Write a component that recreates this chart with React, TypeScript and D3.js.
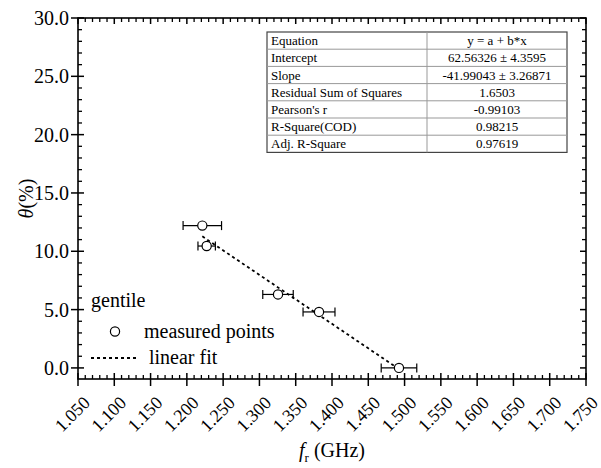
import React from "react";
import * as d3 from "d3";

const xTickLabels = ["1.050","1.100","1.150","1.200","1.250","1.300","1.350","1.400","1.450","1.500","1.550","1.600","1.650","1.700","1.750"];
const yTickLabels = ["0.0","5.0","10.0","15.0","20.0","25.0","30.0"];
const frValues = [1.2213, 1.2273, 1.3256, 1.3821, 1.4923];
const thetaValues = [12.2, 10.45, 6.3, 4.8, 0.0];
const frErrors = [0.0265, 0.012, 0.021, 0.022, 0.0245];
const fitIntercept = 62.56326;
const fitSlope = -41.99043;
const tableRows = [
  ["Equation", "y = a + b*x"],
  ["Intercept", "62.56326 \u00b1 4.3595"],
  ["Slope", "-41.99043 \u00b1 3.26871"],
  ["Residual Sum of Squares", "1.6503"],
  ["Pearson's r", "-0.99103"],
  ["R-Square(COD)", "0.98215"],
  ["Adj. R-Square", "0.97619"],
];

const W = 601, H = 468;
const L = 78, R = 586, T = 18, B = 379;
const FONT = "Liberation Serif, DejaVu Serif, serif";

export default function App() {
  const x = d3.scaleLinear().domain([1.05, 1.75]).range([L, R]);
  const y = d3.scaleLinear().domain([-0.95, 30]).range([B, T]);
  const xMajor = xTickLabels.map(Number);
  const yMajor = yTickLabels.map(Number);
  const xMinor = d3.range(105, 176, 1).map((v) => v / 100).filter((v) => !xMajor.some((m) => Math.abs(m - v) < 1e-6));
  const yMinor = d3.range(0, 31, 1).filter((v) => v % 5 !== 0);
  const xFit = d3.extent(frValues) as [number, number];
  const fitLine = d3.line<number>().x((v) => x(v)).y((v) => y(fitIntercept + fitSlope * v));

  const tL = 267, tR = 567, tT = 32, rowH = 17.2, tDiv = 427;
  const tB = tT + rowH * tableRows.length;
  const ts = { fontFamily: FONT };

  return (
    <svg width={W} height={H} style={{ position: "absolute", left: 0, top: 0, background: "#fff", fontFamily: FONT }}>
      <rect x={0} y={0} width={W} height={H} fill="#fff" />
      {xMinor.map((v, i) => (
        <g key={"xm" + i} stroke="#000" strokeWidth={1.3}>
          <line x1={x(v)} x2={x(v)} y1={B} y2={B - 4} />
          <line x1={x(v)} x2={x(v)} y1={T} y2={T + 4} />
        </g>
      ))}
      {yMinor.map((v, i) => (
        <g key={"ym" + i} stroke="#000" strokeWidth={1.3}>
          <line x1={L} x2={L + 4} y1={y(v)} y2={y(v)} />
          <line x1={R} x2={R - 4} y1={y(v)} y2={y(v)} />
        </g>
      ))}
      {xMajor.map((v, i) => (
        <g key={"xM" + i} stroke="#000" strokeWidth={1.5}>
          <line x1={x(v)} x2={x(v)} y1={B + 7} y2={B - 6} />
          <line x1={x(v)} x2={x(v)} y1={T} y2={T + 6} />
        </g>
      ))}
      {yMajor.map((v, i) => (
        <g key={"yM" + i} stroke="#000" strokeWidth={1.5}>
          <line x1={L - 7} x2={L + 6} y1={y(v)} y2={y(v)} />
          <line x1={R} x2={R - 6} y1={y(v)} y2={y(v)} />
        </g>
      ))}
      <rect x={L} y={T} width={R - L} height={B - T} fill="none" stroke="#000" strokeWidth={1.6} />
      {yTickLabels.map((t, i) => (
        <text key={"yl" + i} style={ts} x={L - 9} y={y(yMajor[i])} dy="0.35em" textAnchor="end" fontSize={20}>{t}</text>
      ))}
      {xTickLabels.map((t, i) => (
        <text key={"xl" + i} style={ts} transform={`translate(${x(xMajor[i]) + 13},${B + 25}) rotate(-45)`} textAnchor="end" fontSize={18}>{t}</text>
      ))}
      <text style={ts} x={332} y={457} textAnchor="middle" fontSize={20}>
        <tspan fontStyle="italic">f</tspan>
        <tspan fontSize={13} dy={5}>r</tspan>
        <tspan dy={-5}> (GHz)</tspan>
      </text>
      <text style={ts} transform={`translate(33,${(T + B) / 2}) rotate(-90)`} textAnchor="middle" fontSize={20}>
        <tspan fontStyle="italic">θ</tspan>(%)
      </text>
      <path d={fitLine(xFit) || ""} fill="none" stroke="#000" strokeWidth={1.8} strokeDasharray="3,3" />
      {frValues.map((v, i) => {
        const cy = y(thetaValues[i]);
        const x0 = x(v - frErrors[i]);
        const x1 = x(v + frErrors[i]);
        return (
          <g key={"p" + i} stroke="#000" strokeWidth={1.2}>
            <line x1={x0} x2={x1} y1={cy} y2={cy} />
            <line x1={x0} x2={x0} y1={cy - 4.5} y2={cy + 4.5} />
            <line x1={x1} x2={x1} y1={cy - 4.5} y2={cy + 4.5} />
            <circle cx={x(v)} cy={cy} r={4.6} fill="#fff" strokeWidth={1.2} />
          </g>
        );
      })}
      <text style={ts} x={91} y={307} fontSize={20}>gentile</text>
      <circle cx={115} cy={331.5} r={4.6} fill="#fff" stroke="#000" strokeWidth={1.2} />
      <text style={ts} x={144} y={338} fontSize={20}>measured points</text>
      <line x1={91} x2={137} y1={358} y2={358} stroke="#000" strokeWidth={1.8} strokeDasharray="3,3" />
      <text style={ts} x={149} y={364} fontSize={20}>linear fit</text>
      <rect x={tL} y={tT} width={tR - tL} height={tB - tT} fill="#fff" stroke="#444" strokeWidth={1.2} />
      {tableRows.slice(1).map((_, i) => (
        <line key={"tr" + i} x1={tL} x2={tR} y1={tT + rowH * (i + 1)} y2={tT + rowH * (i + 1)} stroke="#999" strokeWidth={1} />
      ))}
      <line x1={tDiv} x2={tDiv} y1={tT} y2={tB} stroke="#999" strokeWidth={1} />
      {tableRows.map((r, i) => (
        <g key={"tt" + i}>
          <text style={ts} fontSize={13} x={tL + 4} y={tT + rowH * i + rowH / 2} dy="0.35em">{r[0]}</text>
          <text style={ts} fontSize={13} x={(tDiv + tR) / 2} y={tT + rowH * i + rowH / 2} dy="0.35em" textAnchor="middle">{r[1]}</text>
        </g>
      ))}
    </svg>
  );
}
